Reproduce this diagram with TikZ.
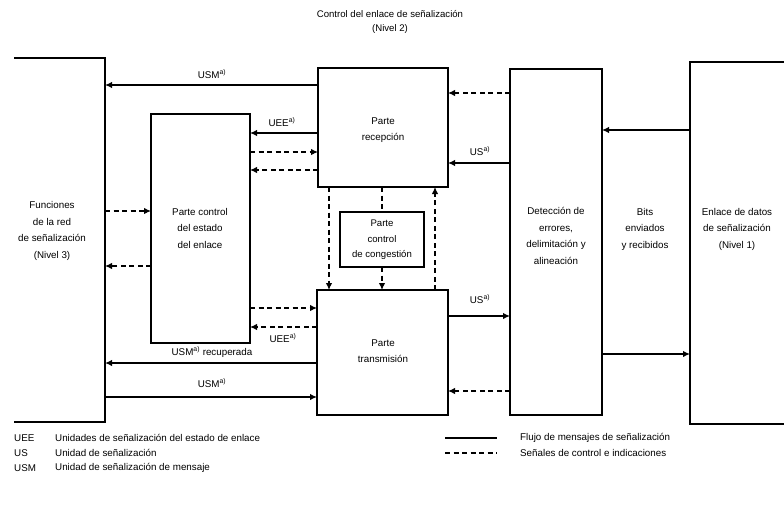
\documentclass[tikz,border=0pt]{standalone}
\usepackage{fontspec}
\setmainfont{Liberation Sans}
\usetikzlibrary{arrows.meta}
\tikzset{
  blk/.style={draw, line width=1.3pt, inner sep=0pt, outer sep=0pt},
  openblk/.style={draw=none, inner sep=0pt, outer sep=0pt},
  lbl/.style={inner sep=1pt, align=center},
  msg/.style={line width=1.9pt, -{Latex[length=7pt,width=6.5pt]}},
  ctl/.style={line width=1.2pt, dash pattern=on 5pt off 3.5pt, -{Latex[length=7pt,width=6.5pt]}},
  ctlplain/.style={line width=1.2pt, dash pattern=on 5pt off 3.5pt},
}
\begin{document}
\begin{tikzpicture}[x=1pt,y=-1pt,font=\fontsize{9.8pt}{16.5pt}\selectfont]
\useasboundingbox (0,0) rectangle (784,509);
% boxes
\node[openblk, minimum width=91pt, minimum height=364pt] (fun) at (59.5,240) {};
\draw[line width=1.3pt] (fun.north west) -- (fun.north east) -- (fun.south east) -- (fun.south west);
\node[openblk, minimum width=94pt, minimum height=362pt] (enl) at (737,243) {};
\draw[line width=1.3pt] (enl.north east) -- (enl.north west) -- (enl.south west) -- (enl.south east);
\node[blk, minimum width=130pt, minimum height=119pt] (rec) at (383,127.5) {};
\node[blk, minimum width=131pt, minimum height=125pt] (tra) at (382.5,352.5) {};
\node[blk, minimum width=84pt, minimum height=55pt] (cong) at (382,239.5) {};
\node[blk, minimum width=99pt, minimum height=229pt] (cte) at (200.5,228.5) {};
\node[blk, minimum width=92pt, minimum height=346pt] (det) at (556,242) {};
% texts
\node[lbl, font=\fontsize{9.6pt}{14pt}\selectfont] (t0) at (390,22) {Control del enlace de señalización\\(Nivel 2)};
\node[lbl] (tfun) at (52,231) {Funciones\\de la red\\de señalización\\(Nivel 3)};
\node[lbl] (tcte) at (200,228) {Parte control\\del estado\\del enlace};
\node[lbl] (trec) at (383,130) {Parte\\recepción};
\node[lbl, font=\fontsize{9.6pt}{15.5pt}\selectfont] (tcong) at (382,240) {Parte\\control\\de congestión};
\node[lbl] (ttra) at (383,351) {Parte\\transmisión};
\node[lbl] (tdet) at (556,236) {Detección de\\errores,\\delimitación y\\alineación};
\node[lbl] (tbits) at (645,229) {Bits\\enviados\\y recibidos};
\node[lbl] (tenl) at (737,229) {Enlace de datos\\de señalización\\(Nivel 1)};
% upper connectors
\draw[msg] (rec.west |- 0,85) -- (fun.east |- 0,85);
\node[lbl] (l1) at (212,74) {USM\textsuperscript{a)}};
\draw[msg] (rec.west |- 0,133) -- (cte.east |- 0,133);
\node[lbl] (l2) at (282,122) {UEE\textsuperscript{a)}};
\draw[ctl] (cte.east |- 0,152) -- (rec.west |- 0,152);
\draw[ctl] (rec.west |- 0,170) -- (cte.east |- 0,170);
\draw[ctl] (det.west |- 0,93) -- (rec.east |- 0,93);
\draw[msg] (det.west |- 0,163) -- (rec.east |- 0,163);
\node[lbl] (l3) at (480,151) {US\textsuperscript{a)}};
\draw[msg] (enl.west |- 0,130) -- (det.east |- 0,130);
% left middle
\draw[ctl] (fun.east |- 0,211) -- (cte.west |- 0,211);
\draw[ctl] (cte.west |- 0,266) -- (fun.east |- 0,266);
% lower connectors
\draw[ctl] (cte.east |- 0,308) -- (tra.west |- 0,308);
\draw[ctl] (tra.west |- 0,327) -- (cte.east |- 0,327);
\node[lbl] (l4) at (283,338) {UEE\textsuperscript{a)}};
\draw[msg] (tra.west |- 0,363) -- (fun.east |- 0,363);
\node[lbl] (l5) at (212,352) {USM\textsuperscript{a)} recuperada};
\draw[msg] (fun.east |- 0,397) -- (tra.west |- 0,397);
\node[lbl] (l6) at (212,383) {USM\textsuperscript{a)}};
\draw[msg] (tra.east |- 0,316) -- (det.west |- 0,316);
\node[lbl] (l7) at (480,299) {US\textsuperscript{a)}};
\draw[ctl] (det.west |- 0,391) -- (tra.east |- 0,391);
\draw[msg] (det.east |- 0,354) -- (enl.west |- 0,354);
% vertical connectors
\draw[ctl] (rec.south -| 329,0) -- (tra.north -| 329,0);
\draw[ctlplain] (rec.south -| cong.north) -- (cong.north);
\draw[ctl] (cong.south) -- (tra.north -| cong.south);
\draw[ctl] (tra.north -| 435,0) -- (rec.south -| 435,0);
% legend
\node[anchor=west, inner sep=0pt] (a1) at (14,438) {UEE};
\node[anchor=west, inner sep=0pt] (d1) at (55,438) {Unidades de señalización del estado de enlace};
\node[anchor=west, inner sep=0pt] (a2) at (14,453) {US};
\node[anchor=west, inner sep=0pt] (d2) at (55,453) {Unidad de señalización};
\node[anchor=west, inner sep=0pt] (a3) at (14,468) {USM};
\node[anchor=west, inner sep=0pt] (d3) at (55,468) {Unidad de señalización de mensaje};
\coordinate (s1) at (445,438);
\coordinate (s2) at (497,438);
\draw[line width=1.9pt] (s1) -- (s2);
\node[anchor=west, inner sep=0pt] (e1) at (520,438) {Flujo de mensajes de señalización};
\coordinate (s3) at (445,453);
\coordinate (s4) at (497,453);
\draw[ctlplain] (s3) -- (s4);
\node[anchor=west, inner sep=0pt] (e2) at (520,453) {Señales de control e indicaciones};
\end{tikzpicture}
\end{document}
